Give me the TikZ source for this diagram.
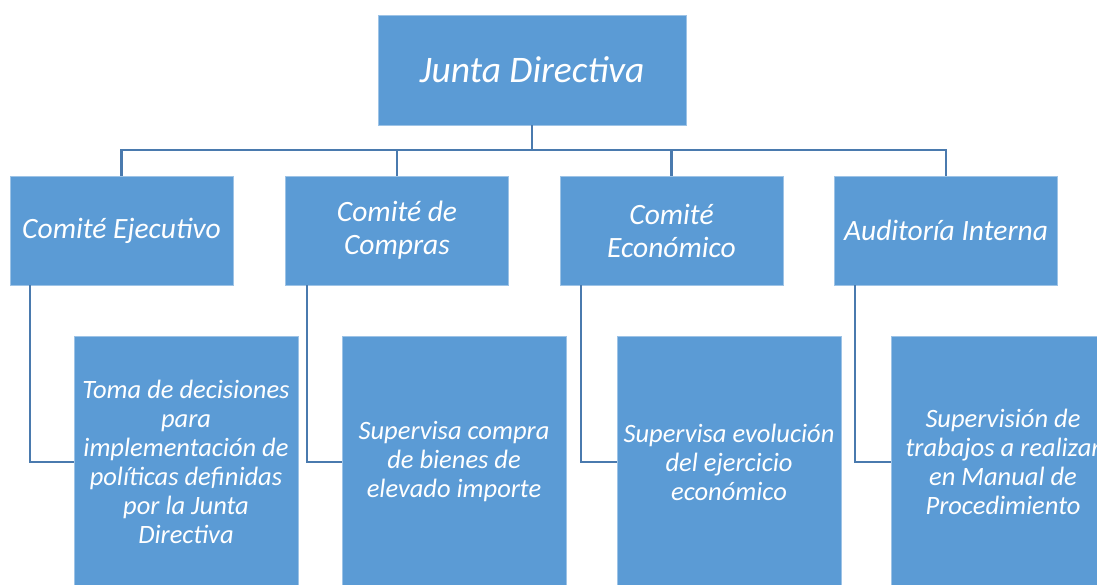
\documentclass[tikz,border=0pt]{standalone}
\usepackage{fontspec}
\setmainfont{Carlito}
\usetikzlibrary{positioning}
\definecolor{box fill}{HTML}{5B9BD5}
\definecolor{box edge}{HTML}{9DC3E6}
\definecolor{link line}{HTML}{4A7AAE}
\tikzset{
  orgbox/.style={rectangle, fill=box fill, draw=box edge, line width=0.8pt,
    text=white, align=center, inner sep=2pt, font=\itshape},
  topbox/.style={orgbox, minimum width=308pt, minimum height=110pt,
    font=\itshape\fontsize{37.5}{44}\selectfont},
  unitbox/.style={orgbox, minimum width=223pt, minimum height=109pt,
    font=\itshape\fontsize{29.5}{33}\selectfont},
  taskbox/.style={orgbox, minimum width=224pt, minimum height=252pt,
    font=\itshape\fontsize{26.5}{29}\selectfont},
  bus/.style={draw=link line, line width=2.6pt},
  link/.style={draw=link line, line width=2pt}
}
\begin{document}
\begin{tikzpicture}[x=1pt, y=-1pt]
    \useasboundingbox (0,0) rectangle (1097,585);
    \clip (0,0) rectangle (1097,585);
    \node[topbox] (root) at (532,70) {Junta Directiva};
    \node[unitbox] (c1) at (121.5,230.5) {Comité Ejecutivo};
    \node[unitbox] (c2) at (397,230.5) {Comité de\\Compras};
    \node[unitbox] (c3) at (671.5,230.5) {Comité\\Económico};
    \node[unitbox] (c4) at (946,230.5) {Auditoría Interna};
    \node[taskbox] (d1) at (186,462) {Toma de decisiones\\para\\implementación de\\políticas definidas\\por la Junta\\Directiva};
    \node[taskbox] (d2) at (454,462) {Supervisa compra\\de bienes de\\elevado importe};
    \node[taskbox] (d3) at (729,462) {Supervisa evolución\\del ejercicio\\económico};
    \node[taskbox] (d4) at (1003,462) {Supervisión de\\trabajos a realizar\\en Manual de\\Procedimiento};
    \coordinate (bus) at (532,150);
    \draw[bus] (root.south) -- (bus) -| (c1.north);
    \draw[bus] (root.south) -- (bus) -| (c2.north);
    \draw[bus] (root.south) -- (bus) -| (c3.north);
    \draw[bus] (root.south) -- (bus) -| (c4.north);
    \draw[link] ([xshift=20pt]c1.south west) |- (d1.west);
    \draw[link] ([xshift=22pt]c2.south west) |- (d2.west);
    \draw[link] ([xshift=21pt]c3.south west) |- (d3.west);
    \draw[link] ([xshift=21pt]c4.south west) |- (d4.west);
\end{tikzpicture}
\end{document}
